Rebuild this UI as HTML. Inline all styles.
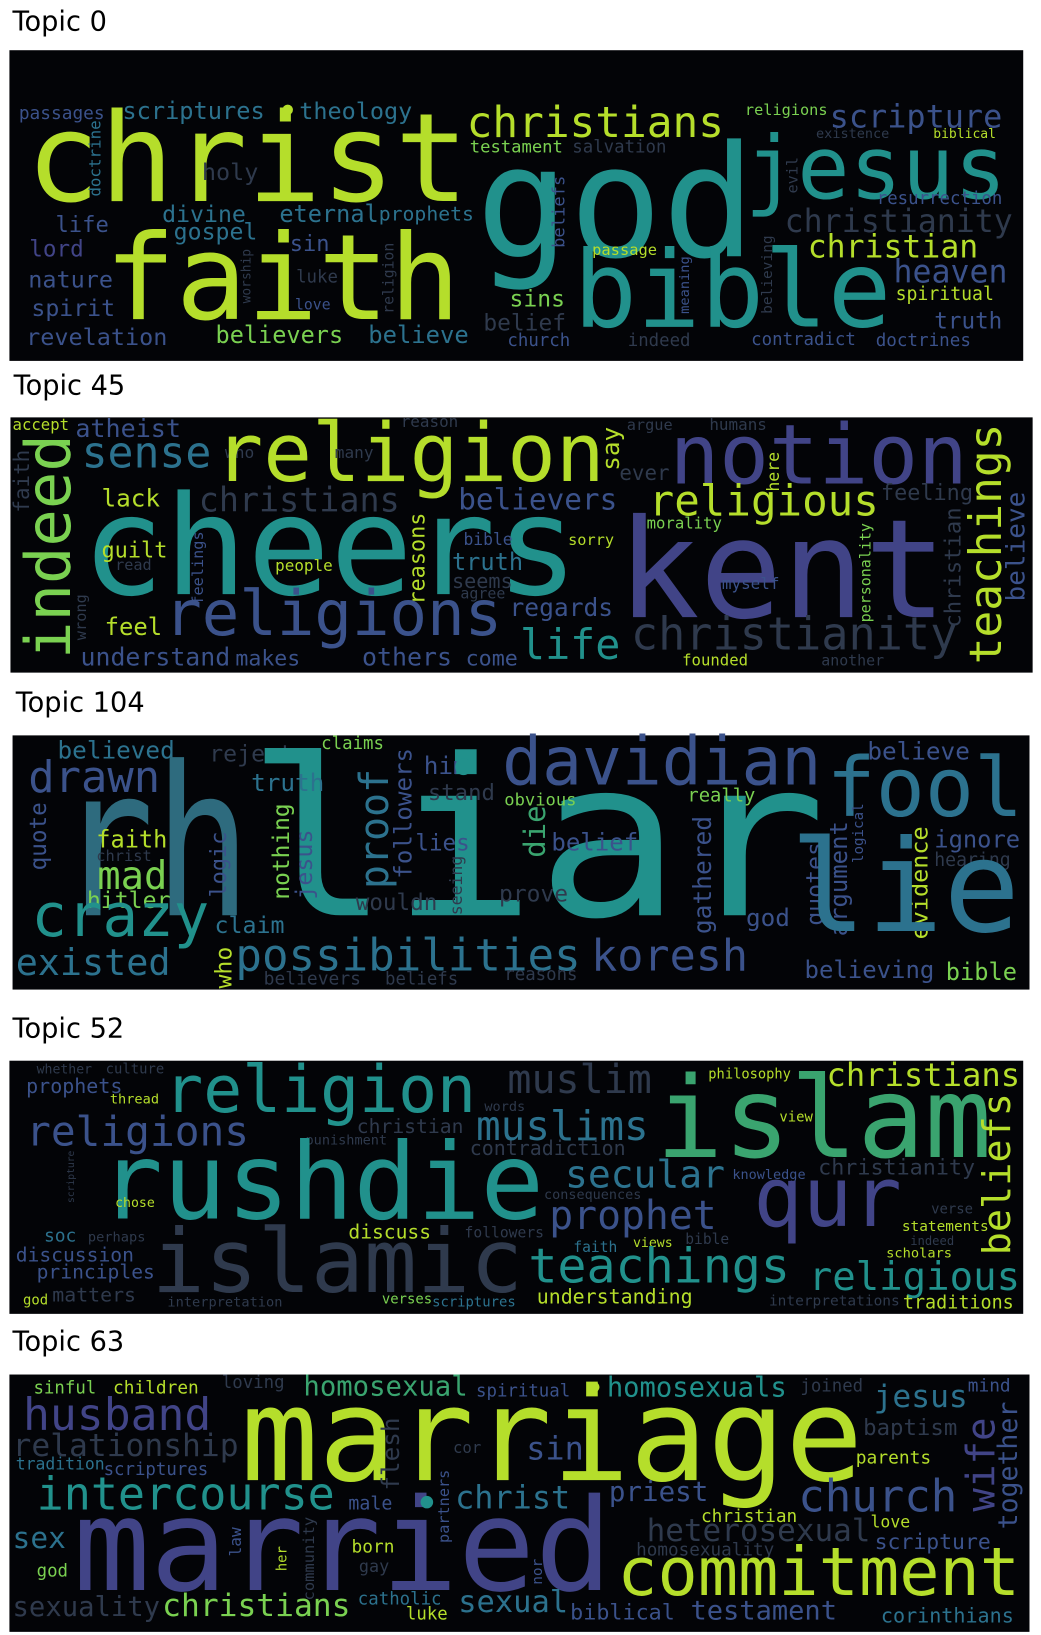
<!DOCTYPE html>
<html><head><meta charset="utf-8">
<style>
html,body{margin:0;padding:0;background:#fff;}
svg{display:block;}
text{font-family:"DejaVu Sans Mono","Liberation Mono",monospace;}
.title{font-family:"DejaVu Sans","Liberation Sans",sans-serif;fill:#000;}
</style></head>
<body>
<svg id="chart" width="1041" height="1635" viewBox="0 0 995 1563" preserveAspectRatio="none" xmlns="http://www.w3.org/2000/svg"></svg>
<script>
const NS="http://www.w3.org/2000/svg";
const svg=document.getElementById('chart');
const COL={Y:"#b5de2b",L:"#7ad151",G:"#3aa46f",T:"#21918c",C:"#2c728e",S:"#2e6b7e",B:"#3b528b",P:"#414487",D:"#2f3a4d"};

const topicTitles=["Topic 0","Topic 45","Topic 104","Topic 52","Topic 63"];
const titleY=[29,377,680,992,1291];
const panelBox=[[9,48,969,297],[10,399,977,244],[12,703,972,243],[9,1014,969,242],[9,1314,975,246]];

// words: [text, x1, x2, baseline, color, fontSizeOverride?] ; vertical: [text, xc, ybottom, ytop, color, 'v']
const topic0Words=[
["passages",18,100,114,"B"],["scriptures",117,253,114,"C"],["theology",286,394,114,"C"],
["christ",25,448,192,"Y"],["christians",446,692,131,"Y"],["testament",449,538,146,"L"],["salvation",547,637,146,"D"],
["religions",712,791,110,"L"],["scripture",793,958,122,"B"],["existence",780,850,132,"D"],["biblical",892,952,132,"Y"],
["god",455,722,245,"T"],["jesus",712,962,190,"T"],["doctrine",92,188,115,"C","v"],["holy",193,247,172,"D"],
["evil",758,185,150,"D","v"],["resurrection",838,958,195,"B"],["christianity",750,968,222,"D"],["beliefs",535,237,168,"B","v"],
["life",53,104,222,"B"],["divine",155,235,212,"C"],["eternal",267,362,212,"C"],["prophets",362,453,211,"C"],
["gospel",166,246,229,"C"],["lord",28,80,245,"P"],["sin",277,315,240,"B"],["christian",772,935,246,"Y"],
["faith",100,440,305,"Y"],["passage",566,628,244,"Y"],["bible",548,852,312,"T"],["nature",27,108,275,"B"],
["luke",283,323,270,"D"],["heaven",854,963,270,"B"],["worship",236,290,238,"D","v"],["religion",372,300,232,"D","v"],
["meaning",655,300,245,"B","v"],["believing",734,300,225,"D","v"],["spiritual",856,950,287,"Y"],["sins",487,540,293,"L"],
["spirit",30,110,302,"B"],["love",282,316,296,"B"],["belief",462,541,316,"D"],["truth",893,958,314,"B"],
["revelation",25,160,330,"B"],["believers",206,328,328,"L"],["believe",352,448,328,"C"],["church",485,545,331,"B"],
["indeed",600,660,331,"D"],["contradict",718,818,330,"B"],["doctrines",837,928,331,"B"]
];
const topic45Words=[
["accept",12,66,411,"Y"],["atheist",72,173,418,"B"],["reason",383,438,408,"D"],["argue",599,643,411,"D"],["humans",678,733,411,"D"],
["faith",22,490,430,"D","v"],["indeed",50,630,415,"L","v"],["sense",78,202,447,"C"],["who",215,243,438,"D"],
["religion",205,578,460,"Y"],["many",320,357,438,"D"],["say",585,450,408,"Y","v"],["notion",640,925,462,"P"],["ever",592,640,459,"D"],
["here",740,470,432,"Y","v"],["teachings",945,635,405,"Y","v"],["christians",190,382,489,"D"],["believers",438,590,487,"B"],
["lack",97,153,484,"Y"],["religious",620,840,493,"Y"],["feeling",842,930,478,"D"],["believe",972,575,470,"B","v"],
["morality",618,690,505,"L"],["cheers",78,553,568,"T"],["kent",590,905,590,"P"],["guilt",97,160,533,"Y"],["read",110,145,545,"D"],
["feelings",190,578,508,"B","v"],["bible",443,490,521,"B"],["sorry",543,587,521,"Y"],["truth",432,500,545,"C"],["people",263,318,546,"Y"],
["reasons",400,578,490,"Y","v"],["seems",432,490,562,"D"],["agree",440,483,572,"D"],["personality",828,595,500,"L","v"],
["christian",912,600,485,"D","v"],["myself",690,745,563,"B"],["wrong",78,612,568,"D","v"],["regards",487,586,589,"B"],
["feel",100,155,607,"Y"],["religions",157,480,607,"B"],["christianity",603,915,621,"D"],["life",497,593,630,"T"],
["understand",77,220,636,"B"],["makes",225,287,636,"B"],["others",346,432,636,"B"],["come",445,495,636,"B"],
["founded",652,715,636,"Y"],["another",785,845,636,"D"]
];
const topic104Words=[
["believed",55,167,725,"C"],["reject",200,280,728,"D"],["claims",307,367,716,"L"],["drawn",27,153,757,"B"],
["rh",55,240,875,"S",199],["liar",235,790,875,"T",209],["truth",240,310,756,"C"],["proof",360,850,735,"C","v"],["followers",387,840,715,"B","v"],
["him",405,447,740,"B"],["stand",409,473,765,"D"],["davidian",480,785,750,"B"],["fool",790,978,780,"C"],["believe",829,927,726,"B"],
["obvious",482,551,770,"L"],["really",657,722,766,"L"],["quote",38,832,767,"B","v"],["faith",92,160,810,"Y"],["christ",92,145,823,"D"],
["mad",93,160,850,"L"],["hitler",83,163,868,"L"],["logic",210,858,795,"B","v"],["nothing",270,860,768,"L","v"],["jesus",292,860,793,"B","v"],
["lies",397,449,813,"B"],["seeing",437,875,818,"D","v"],["belief",527,610,813,"B"],["die",513,820,770,"G","v"],["ignore",893,975,810,"B"],
["hearing",893,966,828,"D"],["logical",821,825,768,"B","v"],["argument",803,895,785,"B","v"],["evidence",880,898,790,"Y","v"],
["quotes",780,885,805,"B","v"],["gathered",673,893,780,"B","v"],["lie",755,975,890,"C"],["prove",477,543,862,"D"],["wouldn",340,418,870,"D"],
["god",713,755,885,"B"],["crazy",30,200,895,"T"],["claim",205,272,892,"C"],["existed",15,163,932,"C"],["who",215,945,905,"Y","v"],
["possibilities",225,555,928,"C"],["koresh",565,715,928,"B"],["believers",252,345,941,"D"],["beliefs",368,438,941,"D"],
["reasons",482,552,937,"D"],["believing",769,893,935,"B"],["bible",904,972,937,"L"]
];
const topic52Words=[
["whether",35,88,1026,"D"],["culture",101,157,1026,"D"],["prophets",25,117,1045,"B"],["thread",105,152,1055,"Y"],
["religion",157,455,1063,"T"],["muslim",485,623,1045,"D"],["philosophy",677,756,1031,"Y"],["christians",790,975,1038,"Y"],
["words",463,502,1062,"D"],["islam",627,948,1106,"G"],["beliefs",955,1200,1045,"Y","v"],["religions",25,238,1095,"B"],
["christian",341,443,1083,"D"],["muslims",455,620,1090,"C"],["view",745,777,1072,"Y"],["punishment",292,370,1094,"D"],
["contradiction",449,598,1104,"D"],["rushdie",95,520,1165,"T"],["scripture",68,1150,1100,"D","v"],["secular",540,693,1135,"C"],
["knowledge",700,770,1127,"B"],["christianity",782,932,1123,"D"],["consequences",520,613,1146,"D"],["chose",110,148,1154,"Y"],
["qur",720,862,1172,"P"],["prophet",525,685,1175,"B"],["verse",890,930,1160,"D"],["statements",862,945,1177,"Y"],["indeed",870,912,1190,"D"],
["islamic",145,500,1235,"D"],["discuss",333,412,1184,"Y"],["soc",42,73,1187,"C"],["perhaps",84,139,1187,"D"],["followers",444,520,1183,"D"],
["faith",548,590,1197,"C"],["views",605,643,1192,"Y"],["bible",655,697,1189,"D"],["discussion",15,128,1206,"B"],["scholars",847,910,1202,"Y"],
["principles",35,148,1222,"B"],["teachings",505,755,1226,"T"],["religious",773,975,1233,"T"],["god",22,46,1247,"Y"],["matters",50,130,1244,"D"],
["interpretation",160,270,1249,"D"],["verses",365,413,1246,"L"],["scriptures",413,493,1249,"C"],["understanding",513,662,1246,"Y"],
["interpretations",735,860,1248,"D"],["traditions",863,969,1251,"Y"]
];
const topic63Words=[
["sinful",32,92,1332,"L"],["children",108,190,1332,"Y"],["loving",212,272,1327,"D"],["homosexual",290,447,1334,"G"],["spiritual",455,545,1335,"B"],
["homosexuals",580,752,1335,"T"],["joined",765,825,1330,"D"],["mind",925,966,1330,"B"],["husband",22,202,1367,"P"],["marriage",230,825,1415,"Y"],
["jesus",835,925,1345,"C"],["relationship",12,228,1392,"D"],["flesh",375,1425,1355,"D","v"],["baptism",825,915,1372,"D"],["wife",940,1445,1355,"P","v"],
["together",965,1462,1340,"B","v"],["cor",433,460,1389,"D"],["sin",503,558,1395,"B"],["tradition",15,100,1405,"C"],["scriptures",99,199,1410,"B"],
["parents",818,890,1399,"Y"],["intercourse",35,320,1443,"T"],["partners",425,1475,1405,"B","v"],["male",333,375,1443,"B"],["christ",435,545,1442,"C"],
["priest",582,677,1435,"B"],["church",763,915,1445,"B"],["christian",670,762,1455,"Y"],["married",70,585,1520,"P"],["community",296,1530,1450,"D","v"],
["law",226,1488,1460,"B","v"],["her",270,1502,1478,"Y","v"],["heterosexual",618,832,1473,"D"],["love",832,870,1460,"Y"],["sex",12,63,1480,"C"],
["born",336,377,1484,"Y"],["scripture",836,947,1481,"B"],["homosexuality",608,740,1487,"D"],["gay",343,372,1503,"D"],["god",35,65,1507,"L"],
["nor",514,1515,1490,"B","v"],["commitment",590,975,1525,"Y"],["sexuality",12,153,1545,"D"],["christians",155,335,1545,"L"],["catholic",342,422,1534,"C"],
["luke",388,428,1548,"Y"],["sexual",438,543,1541,"C"],["biblical",545,645,1548,"B"],["testament",660,800,1548,"B"],["corinthians",842,969,1551,"C"]
];
const allWords=[topic0Words,topic45Words,topic104Words,topic52Words,topic63Words];
const dots=[[0,275,105,5,"Y"],[2,443,733,8,"T"],[4,568,1326,5,"Y"],[4,408,1436,6,"T"]];

topicTitles.forEach((t,i)=>{
  const g=document.createElementNS(NS,'g');
  
  
  svg.appendChild(g);
  const tt=document.createElementNS(NS,'text');
  tt.setAttribute('class','title');
  tt.setAttribute('x',panelBox[i][0]+3);
  tt.setAttribute('y',titleY[i]);
  tt.setAttribute('font-size','26');
  tt.textContent=t;
  
  
  g.appendChild(tt);
  const r=document.createElementNS(NS,'rect');
  const b=panelBox[i];
  r.setAttribute('x',b[0]);r.setAttribute('y',b[1]);r.setAttribute('width',b[2]);r.setAttribute('height',b[3]);
  r.setAttribute('fill','#030407');
  
  
  g.appendChild(r);
  allWords[i].forEach(w=>{
    const el=document.createElementNS(NS,'text');
    const n=w[0].length;
    el.setAttribute('fill',COL[w[4]]);
    el.setAttribute('lengthAdjust','spacingAndGlyphs');
    if(w[5]==='v'){
      const len=w[2]-w[3];
      const fs=len/(n*0.6);
      el.setAttribute('font-size',fs.toFixed(1));
      el.setAttribute('textLength',len);
      el.setAttribute('transform','translate('+(w[1]+fs*0.28)+','+w[2]+') rotate(-90)');
    } else {
      const len=w[2]-w[1];
      const fs=(typeof w[5]==='number')?w[5]:len/(n*0.6);
      el.setAttribute('font-size',fs.toFixed(1));
      el.setAttribute('textLength',len);
      el.setAttribute('x',w[1]);
      el.setAttribute('y',w[3]);
    }
    el.textContent=w[0];
    
    
    g.appendChild(el);
  });
  dots.filter(d=>d[0]===i).forEach(d=>{
    const c=document.createElementNS(NS,'circle');
    c.setAttribute('cx',d[1]);c.setAttribute('cy',d[2]);c.setAttribute('r',d[3]);c.setAttribute('fill',COL[d[4]]);
    
    
    g.appendChild(c);
  });
});
</script>
</body></html>
